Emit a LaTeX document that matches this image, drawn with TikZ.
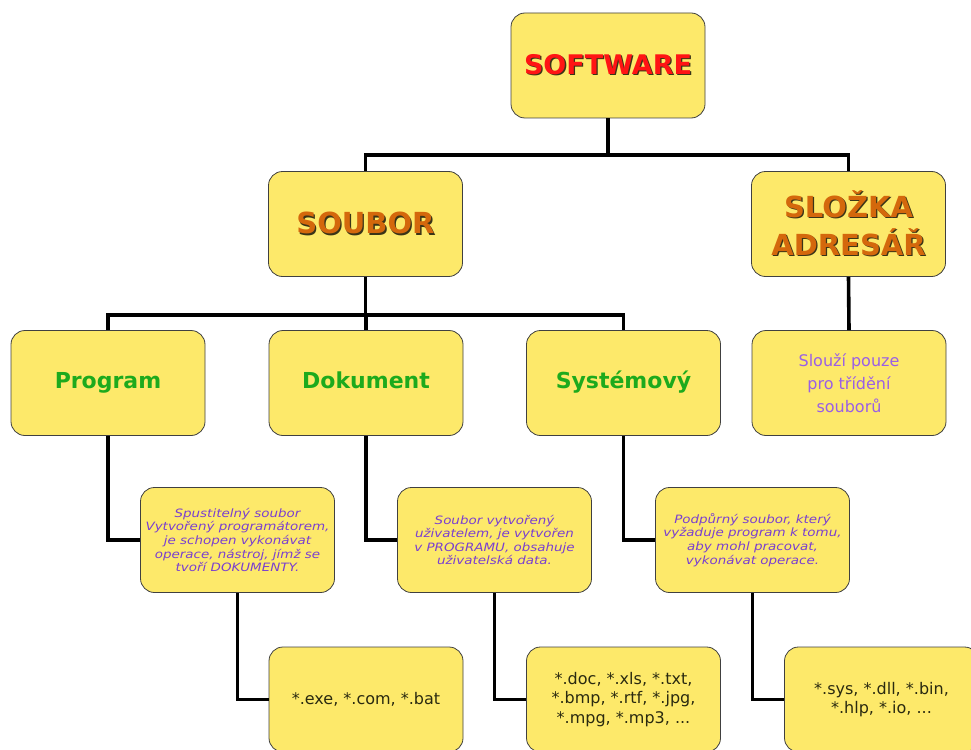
\documentclass[tikz,border=0pt]{standalone}
\usepackage{fontspec}
\setmainfont{DejaVu Sans}
\newfontfamily\descfont[FakeStretch=1.17]{DejaVu Sans}
\definecolor{boxyellow}{HTML}{FDE96A}
\definecolor{titlered}{HTML}{FF1414}
\definecolor{titleorange}{HTML}{D4680C}
\definecolor{shadowc}{HTML}{3A3418}
\definecolor{greentxt}{HTML}{1DAA1D}
\definecolor{purpletxt}{HTML}{9A5FE6}
\definecolor{desctxt}{HTML}{7A3FD0}
\definecolor{exttxt}{HTML}{2A2A10}
\newcommand{\shtxt}[3]{\leavevmode\rlap{\hspace{1.3pt}\raisebox{-1.3pt}{\color{#1}#3}}{\color{#2}#3}}
\begin{document}
\begin{tikzpicture}[x=1pt,y=-1pt,
  box/.style={draw=black!75, line width=0.8pt, fill=boxyellow, rounded corners=14pt,
    minimum width=194pt, minimum height=105pt, align=center, inner sep=2pt},
  conn/.style={line width=3.6pt, black},
  toptitle/.style={font=\bfseries\fontsize{27}{32}\selectfont},
  midtitle/.style={font=\bfseries\fontsize{29}{38}\selectfont},
  subtitle/.style={font=\bfseries\fontsize{22}{26}\selectfont, text=greentxt},
  purp/.style={font=\fontsize{16}{23}\selectfont, text=purpletxt},
  desc/.style={font=\descfont\itshape\fontsize{11.5}{13.6}\selectfont, text=desctxt},
  ext/.style={font=\fontsize{16}{19.5}\selectfont, text=exttxt}
]
\useasboundingbox (0,0) rectangle (971,749);
% boxes
\node[box, toptitle] (sw) at (608,65.5) {\shtxt{shadowc}{titlered}{SOFTWARE}};
\node[box, midtitle] (soubor) at (365.5,224) {\shtxt{shadowc}{titleorange}{SOUBOR}};
\node[box, midtitle] (slozka) at (848.5,224) {\shtxt{shadowc}{titleorange}{SLOŽKA}\\\shtxt{shadowc}{titleorange}{ADRESÁŘ}};
\node[box, subtitle] (prog) at (108,383) {\strut Program};
\node[box, subtitle] (dok) at (366,383) {\strut Dokument};
\node[box, subtitle] (sys) at (623.5,383) {\strut Systémový};
\node[box, purp] (slouzi) at (849,383) {Slouží pouze\\pro třídění\\souborů};
\node[box, desc] (d1) at (237.5,540) {Spustitelný soubor\\Vytvořený programátorem,\\je schopen vykonávat\\operace, nástroj, jímž se\\tvoří DOKUMENTY.};
\node[box, desc] (d2) at (494.5,540) {Soubor vytvořený\\uživatelem, je vytvořen\\v PROGRAMU, obsahuje\\uživatelská data.};
\node[box, desc] (d3) at (752.5,540) {Podpůrný soubor, který\\vyžaduje program k tomu,\\aby mohl pracovat,\\vykonávat operace.};
\node[box, ext] (e1) at (366,699.5) {*.exe, *.com, *.bat};
\node[box, ext] (e2) at (623.5,699.5) {*.doc, *.xls, *.txt,\\*.bmp, *.rtf, *.jpg,\\*.mpg, *.mp3, ...};
\node[box, ext] (e3) at (881.5,699.5) {*.sys, *.dll, *.bin,\\*.hlp, *.io, ...};
% junctions
\coordinate (j1) at (608,155);
\coordinate (j2) at (365,315);
% connectors
\draw[conn] (sw.south) -- (sw.south |- j1);
\draw[conn] (soubor.north) |- (slozka.north |- j1) -- (slozka.north);
\draw[conn] (soubor.south) -- (soubor.south |- j2);
\draw[conn] (prog.north) |- (sys.north |- j2) -- (sys.north);
\draw[conn] (dok.north) -- (dok.north |- j2);
\draw[conn] (slozka.south) -- (slouzi.north);
\draw[conn] (prog.south) |- (d1.west);
\draw[conn] (dok.south) |- (d2.west);
\draw[conn] (sys.south) |- (d3.west);
\draw[conn] (d1.south) |- (e1.west);
\draw[conn] (d2.south) |- (e2.west);
\draw[conn] (d3.south) |- (e3.west);
\end{tikzpicture}
\end{document}
